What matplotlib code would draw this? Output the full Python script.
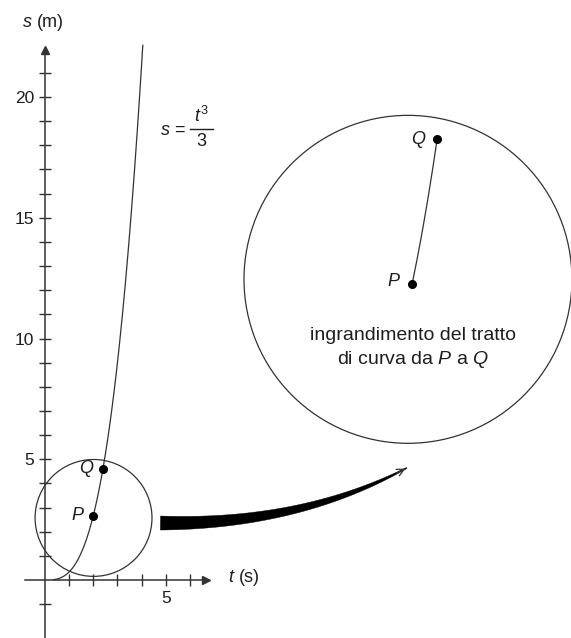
import numpy as np
import matplotlib
matplotlib.use("Agg")
import matplotlib.pyplot as plt
from matplotlib.patches import Circle, Polygon

plt.rcParams.update({"font.family": "Liberation Sans", "font.size": 13,
                     "mathtext.fontset": "custom", "mathtext.rm": "Liberation Sans",
                     "mathtext.it": "Liberation Sans:italic", "mathtext.bf": "Liberation Sans:bold"})
INK, LINE = "#1e1e1e", "#333333"

# moto s = t^3/3, istanti P e Q
t_P, t_Q = 2.0, 2.4
t_curve = np.linspace(0.35, 4.05, 300)
s_curve = t_curve ** 3 / 3
s_P, s_Q = t_P ** 3 / 3, t_Q ** 3 / 3

y_major = [5, 10, 15, 20]
y_minor = list(range(-1, 22))
x_major = [5]
x_minor = list(range(1, 7))

# small circle round P, enlarged view
small_c, small_r = (2.01, 2.57), 2.42
big_c, big_r = (15.03, 12.45), 6.79
big_P = (15.2, 12.26)
mag_t, mag_s = 2.6, 3.1

U = 24.15  # px per unit, same on both axes
fig = plt.figure(figsize=(5.71, 6.38), dpi=100)
ax = fig.add_axes([0, 0, 1, 1])
ax.set_xlim(-45 / U, (571 - 45) / U)
ax.set_ylim(-(638 - 580) / U, 580 / U)
ax.set_aspect("equal")

for side in ("top", "right"):
    ax.spines[side].set_visible(False)
ax.spines["left"].set_position(("data", 0))
ax.spines["bottom"].set_position(("data", 0))
ax.spines["left"].set_bounds(-2.4, 21.9)
ax.spines["bottom"].set_bounds(-0.83, 6.6)
for sp in ("left", "bottom"):
    ax.spines[sp].set_linewidth(1.1)
    ax.spines[sp].set_color(LINE)
ax.plot([0], [21.95], marker="^", ms=6, color=LINE, clip_on=False)
ax.plot([6.65], [0], marker=">", ms=6, color=LINE, clip_on=False)

ax.set_yticks(y_major)
ax.set_yticks([v for v in y_minor if v not in y_major and v != 0], minor=True)
ax.set_xticks(x_major)
ax.set_xticks([v for v in x_minor if v not in x_major], minor=True)
ax.tick_params(which="both", direction="inout", length=8, width=1.0, color=LINE,
               labelcolor=INK, labelsize=12.5)
ax.tick_params(axis="y", pad=4)
ax.tick_params(axis="x", pad=4)

ax.text(-0.95, 23.1, "$s$ (m)", ha="left", va="center", color=INK)
ax.text(7.58, 0.12, "$t$ (s)", ha="left", va="center", color=INK)

ax.plot(t_curve, s_curve, color=LINE, lw=0.9)
# s = t^3 / 3 written as a stacked fraction
ax.text(5.84, 18.62, "$s$ =", ha="right", va="center", color=INK)
ax.plot([6.0, 6.96], [18.67, 18.67], color=INK, lw=1.0)
ax.text(6.48, 18.8, "$t^3$", ha="center", va="bottom", color=INK)
ax.text(6.48, 18.5, "3", ha="center", va="top", color=INK)

ax.plot([t_P, t_Q], [s_P, s_Q], "o", color="black", ms=5.5)
ax.text(t_P - 0.35, s_P, "$P$", ha="right", va="center", color=INK)
ax.text(t_Q - 0.35, s_Q, "$Q$", ha="right", va="center", color=INK)
ax.add_patch(Circle(small_c, small_r, fill=False, ec=LINE, lw=0.9))

# enlarged piece of curve from P to Q
seg_t = np.linspace(t_P, t_Q, 50)
seg_s = seg_t ** 3 / 3
bt = big_P[0] + mag_t * (seg_t - t_P)
bs = big_P[1] + mag_s * (seg_s - s_P)
ax.plot(bt, bs, color=LINE, lw=0.9)
ax.plot([bt[0], bt[-1]], [bs[0], bs[-1]], "o", color="black", ms=5.5)
ax.text(bt[0] - 0.45, bs[0] + 0.1, "$P$", ha="right", va="center", color=INK)
ax.text(bt[-1] - 0.45, bs[-1] - 0.05, "$Q$", ha="right", va="center", color=INK)
ax.add_patch(Circle(big_c, big_r, fill=False, ec=LINE, lw=0.9, clip_on=False))
ax.text(15.24, 9.58, "ingrandimento del tratto\ndi curva da $P$ a $Q$", ha="center", va="center",
        color=INK, fontsize=14, linespacing=1.35)

# tapered arrow between the two circles
p0 = np.array([small_c[0] + small_r + 0.35, 2.36])
p1 = np.array([10.56, 2.28])
p2 = np.array([big_c[0] - 0.05, 4.64])
u = np.linspace(0, 1, 120)[:, None]
mid = (1 - u) ** 2 * p0 + 2 * (1 - u) * u * p1 + u ** 2 * p2
der = 2 * (1 - u) * (p1 - p0) + 2 * u * (p2 - p1)
nrm = np.column_stack([-der[:, 1], der[:, 0]]) / np.linalg.norm(der, axis=1)[:, None]
half = (0.27 * (1 - u[:, 0]) ** 0.9 + 0.02)[:, None]
outline = np.vstack([mid + nrm * half, (mid - nrm * half)[::-1]])
ax.add_patch(Polygon(outline, closed=True, fc="black", ec="black", lw=0.3))
ax.annotate("", xy=p2 + 0.05 * (p2 - p1) / np.linalg.norm(p2 - p1), xytext=mid[-8],
            arrowprops=dict(arrowstyle="->", lw=0.9, color=LINE, mutation_scale=13))

ax.patch.set_visible(False)
fig.savefig("out.png", dpi=100, facecolor="white")
